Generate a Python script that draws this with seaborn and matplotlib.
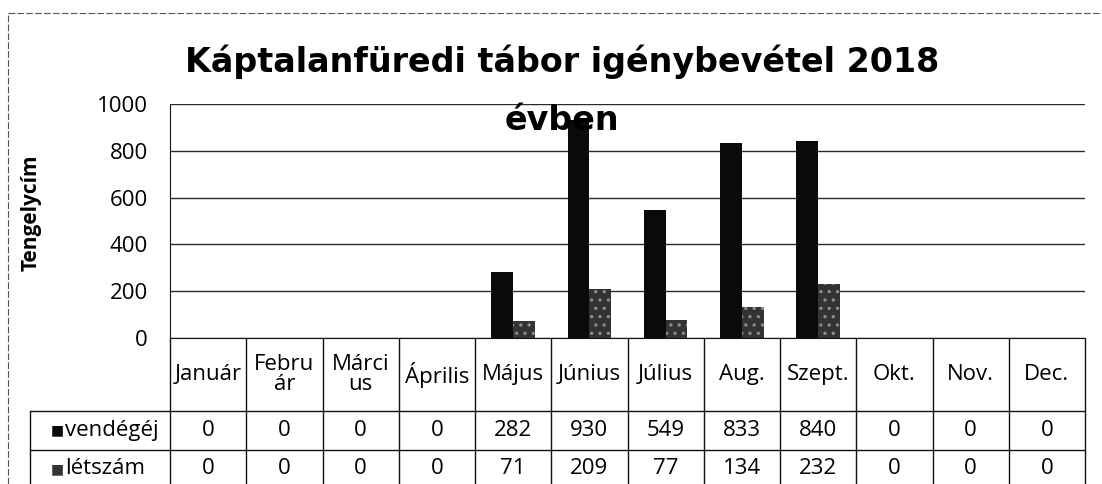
import pandas as pd
import matplotlib.pyplot as plt
import seaborn as sns
from matplotlib.lines import Line2D

# adatok
honapok = ['Január', 'Febru\nár', 'Márci\nus', 'Április', 'Május', 'Június',
           'Július', 'Aug.', 'Szept.', 'Okt.', 'Nov.', 'Dec.']
vendegej = [0, 0, 0, 0, 282, 930, 549, 833, 840, 0, 0, 0]
letszam = [0, 0, 0, 0, 71, 209, 77, 134, 232, 0, 0, 0]
sorok = ['vendégéj', 'létszám']
szinek = ['#0a0a0a', '#333333']
yticks = [0, 200, 400, 600, 800, 1000]

sns.set_style('white')
plt.rcParams['font.family'] = ['Open Sans', 'DejaVu Sans']
plt.rcParams['hatch.linewidth'] = 1.2
for k in ['text.color', 'axes.labelcolor', 'xtick.color', 'ytick.color']:
    plt.rcParams[k] = 'black'

df = pd.DataFrame({'honap': honapok * 2,
                   'sor': [sorok[0]] * 12 + [sorok[1]] * 12,
                   'ertek': vendegej + letszam})

fig = plt.figure(figsize=(11.02, 4.84), dpi=100)
ax = fig.add_axes([170 / 1102, 1 - 338 / 484, 915 / 1102, 234 / 484])

sns.barplot(data=df, x='honap', y='ertek', hue='sor', order=honapok,
            hue_order=sorok, palette=szinek, width=0.57, gap=0,
            saturation=1, legend=False, linewidth=0, ax=ax)
# pottyos minta a letszam oszlopokon
for bar in ax.containers[1]:
    bar.set_hatch('..')
    bar.set_edgecolor('#8c8c8c')

ax.set_xlim(-0.5, 11.5)
ax.set_ylim(0, 1000)
ax.set_yticks(yticks)
ax.set_xticks([])
ax.set_xlabel('')
ax.grid(axis='y', color='#2a2a2a', lw=1)
ax.set_axisbelow(True)
for s in ['top', 'right']:
    ax.spines[s].set_visible(False)
ax.spines['left'].set_color('#111')
ax.spines['bottom'].set_color('#111')
ax.tick_params(axis='y', length=0, pad=16, labelsize=16)

ax.set_ylabel('Tengelycím', fontweight='bold', fontsize=15)
ax.yaxis.set_label_coords(-0.140, 0.534)

# cim: az also sor (évben) alapvonalahoz igazitva
fig.text(562 / 1102, 1 - 130 / 484,
         'Káptalanfüredi tábor igénybevétel 2018\névben',
         ha='center', va='baseline', fontsize=24, fontweight='bold',
         linespacing=1.95, family='DejaVu Sans')

# adattabla az abra alatt
tr = ax.transAxes
n = len(honapok)
y_fej, y_s1, y_s2 = -0.312, -0.479, -0.66
x_bal = -0.153
kw = dict(color='#111', lw=1, clip_on=False, transform=tr)
for i in range(n + 1):
    ax.add_line(Line2D([i / n, i / n], [0, y_s2], **kw))
ax.add_line(Line2D([x_bal, 1], [y_fej, y_fej], **kw))
ax.add_line(Line2D([x_bal, 1], [y_s1, y_s1], **kw))
ax.add_line(Line2D([x_bal, x_bal], [y_fej, y_s2], **kw))

for i, h in enumerate(honapok):
    xc = (i + 0.5) / n
    ax.text(xc, y_fej / 2, h, ha='center', va='center', fontsize=16,
            linespacing=0.9, transform=tr)
    ax.text(xc, (y_fej + y_s1) / 2, str(vendegej[i]), ha='center',
            va='center', fontsize=16, transform=tr)
    ax.text(xc, (y_s1 + y_s2) / 2 + 0.01, str(letszam[i]), ha='center',
            va='center', fontsize=16, transform=tr)

for j, (nev, y0, y1) in enumerate([(sorok[0], y_fej, y_s1), (sorok[1], y_s1, y_s2)]):
    ym = (y0 + y1) / 2 + (0.01 if j else 0)
    ax.text(-0.130, ym, '■', color=szinek[j], ha='left', va='center',
            fontsize=10, transform=tr, family='DejaVu Sans')
    ax.text(-0.115, ym, nev, ha='left', va='center', fontsize=16,
            transform=tr)

# a beolvasott lap kerete
fig.add_artist(Line2D([8 / 1102, 1], [1 - 13 / 484, 1 - 13 / 484],
                      color='#555', lw=0.8, ls=(0, (6, 2))))
fig.add_artist(Line2D([8 / 1102, 8 / 1102], [0, 1 - 13 / 484],
                      color='#555', lw=0.8, ls=(0, (6, 2))))

fig.savefig('out.png', dpi=100)
